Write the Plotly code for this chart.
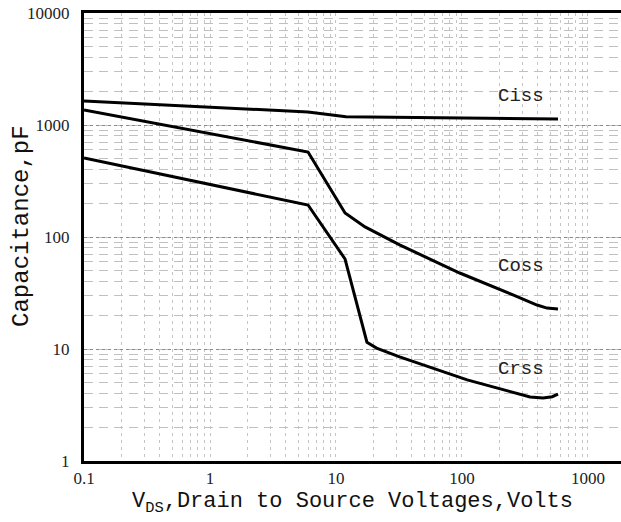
import numpy as np
import plotly.graph_objects as go

# Capacitance vs drain-source voltage
ciss_v = [0.1, 6.0, 12.0, 32.0, 578]
ciss_c = [1637, 1306, 1185, 1175, 1130]

coss_v = [0.1, 6.0, 11.8, 17.0, 32.0, 96.0, 254, 394, 473, 578]
coss_c = [1361, 574, 164, 123, 85, 47.7, 30.4, 24.7, 23.2, 22.8]

crss_v = [0.1, 6.0, 11.8, 17.6, 21.0, 32.0, 110, 274, 347, 440, 520, 578]
crss_c = [507, 193, 63.6, 11.5, 10.2, 8.5, 5.3, 4.05, 3.73, 3.65, 3.75, 3.96]

x_ticks = [0.1, 1, 10, 100, 1000]
x_tick_text = ['0.1', '1', '10', '100', '1000']
y_ticks = [1, 10, 100, 1000, 10000]
y_tick_text = ['1', '10', '100', '1000', '10000']

curve_names = ['Ciss', 'Coss', 'Crss']
label_v = [294, 294, 294]
label_c = [1815, 55, 6.6]

fig = go.Figure()
for v, c, name in [(ciss_v, ciss_c, 'Ciss'), (coss_v, coss_c, 'Coss'), (crss_v, crss_c, 'Crss')]:
    fig.add_trace(go.Scatter(x=v, y=c, mode='lines', name=name,
                             line=dict(color='black', width=3), showlegend=False))

for name, v, c in zip(curve_names, label_v, label_c):
    fig.add_annotation(x=np.log10(v), y=np.log10(c), text=name, showarrow=False,
                       font=dict(family='Liberation Mono', size=19, color='#222'))

# axis titles as annotations so they sit where the reference has them
fig.add_annotation(xref='paper', yref='paper', x=0.5, y=-0.094,
                   xanchor='center', yanchor='middle',
                   text='V<sub>DS</sub>,Drain to Source Voltages,Volts', showarrow=False,
                   font=dict(family='Liberation Mono', size=22, color='#111'))
fig.add_annotation(xref='paper', yref='paper', x=-0.1155, y=0.5246, textangle=-90,
                   xanchor='center', yanchor='middle',
                   text='Capacitance,pF', showarrow=False,
                   font=dict(family='Liberation Mono', size=24, color='#111'))

fig.update_layout(
    width=621, height=522,
    margin=dict(l=84, r=0, t=13, b=61),
    paper_bgcolor='white', plot_bgcolor='white',
    xaxis=dict(
        type='log', range=[-1, 3.262], automargin=False,
        tickvals=x_ticks, ticktext=x_tick_text,
        tickfont=dict(family='Liberation Serif', size=17, color='#222'),
        ticklabelstandoff=0,
        showline=True, linecolor='black', linewidth=3, mirror=True,
        showgrid=True, gridcolor='#c4c4c4', gridwidth=1, griddash='3px,4px',
        minor=dict(dtick='D1', showgrid=True, gridcolor='#c4c4c4', gridwidth=1, griddash='3px,4px'),
        ticks='', zeroline=False,
    ),
    yaxis=dict(
        type='log', range=[0, 4], automargin=False,
        tickvals=y_ticks, ticktext=y_tick_text,
        tickfont=dict(family='Liberation Serif', size=17, color='#222'),
        ticklabelstandoff=8,
        showline=True, linecolor='black', linewidth=3,
        showgrid=True, gridcolor='#8a8a8a', gridwidth=1, griddash='3px,3px',
        minor=dict(dtick='D1', showgrid=True, gridcolor='#c0c0c0', gridwidth=1, griddash='9px,6px'),
        ticks='', zeroline=False,
    ),
)

# drop the page's default body margin so the figure starts at the window corner
fig.write_html("out.html", config={'displayModeBar': False},
               post_script="document.body.style.margin='0';")
